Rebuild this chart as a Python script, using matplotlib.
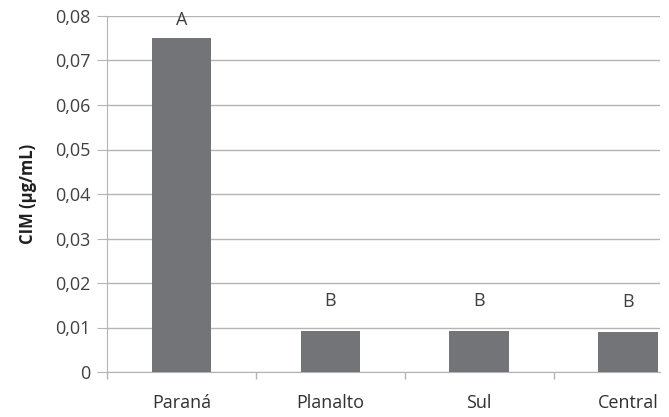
import matplotlib
matplotlib.use("Agg")
import matplotlib.pyplot as plt
from matplotlib.ticker import FuncFormatter, FixedLocator

categories = ["Paraná", "Planalto", "Sul", "Central"]
values = [0.075, 0.0093, 0.0093, 0.0090]
letters = ["A", "B", "B", "B"]
yticks = [0, 0.01, 0.02, 0.03, 0.04, 0.05, 0.06, 0.07, 0.08]

plt.rcParams['font.family'] = ['Open Sans', 'DejaVu Sans']

fig = plt.figure(figsize=(6.69, 4.17), dpi=100)
ax = fig.add_axes([107/669, 1 - 372/417, (660 - 107)/669, (372 - 16)/417])

x = list(range(len(categories)))
ax.bar(x, values, width=0.4, color="#737477", zorder=3)
for xi, v, l in zip(x, values, letters):
    ax.text(xi, min(v + 0.0067, 0.0791), l, ha="center", va="center",
            fontsize=13, color="#404040", clip_on=False)

ax.set_xlim(-0.5, 3.215)
ax.set_ylim(0, 0.08)
ax.set_yticks(yticks)
ax.yaxis.set_major_formatter(FuncFormatter(lambda v, p: "0" if v == 0 else f"{v:.2f}".replace(".", ",")))
ax.yaxis.grid(True, color="#b4b4b4", linewidth=1.0, zorder=0)
ax.set_axisbelow(True)
ax.tick_params(axis="y", length=7, color="#b4b4b4", labelsize=13, labelcolor="#404040", pad=5)

ax.set_xticks(x)
ax.set_xticklabels(categories)
ax.tick_params(axis="x", length=0, labelsize=13, labelcolor="#303030", pad=16)
ax.xaxis.set_minor_locator(FixedLocator([-0.5, 0.5, 1.5, 2.5]))
ax.tick_params(axis="x", which="minor", length=5, color="#b4b4b4", width=1)

for s in ["top", "right"]:
    ax.spines[s].set_visible(False)
ax.spines["left"].set_color("#b4b4b4")
ax.spines["bottom"].set_color("#b4b4b4")

ax.set_ylabel("CIM (µg/mL)", fontsize=12, fontweight="bold", color="#202020", labelpad=13)

fig.savefig("out.png", dpi=100)
